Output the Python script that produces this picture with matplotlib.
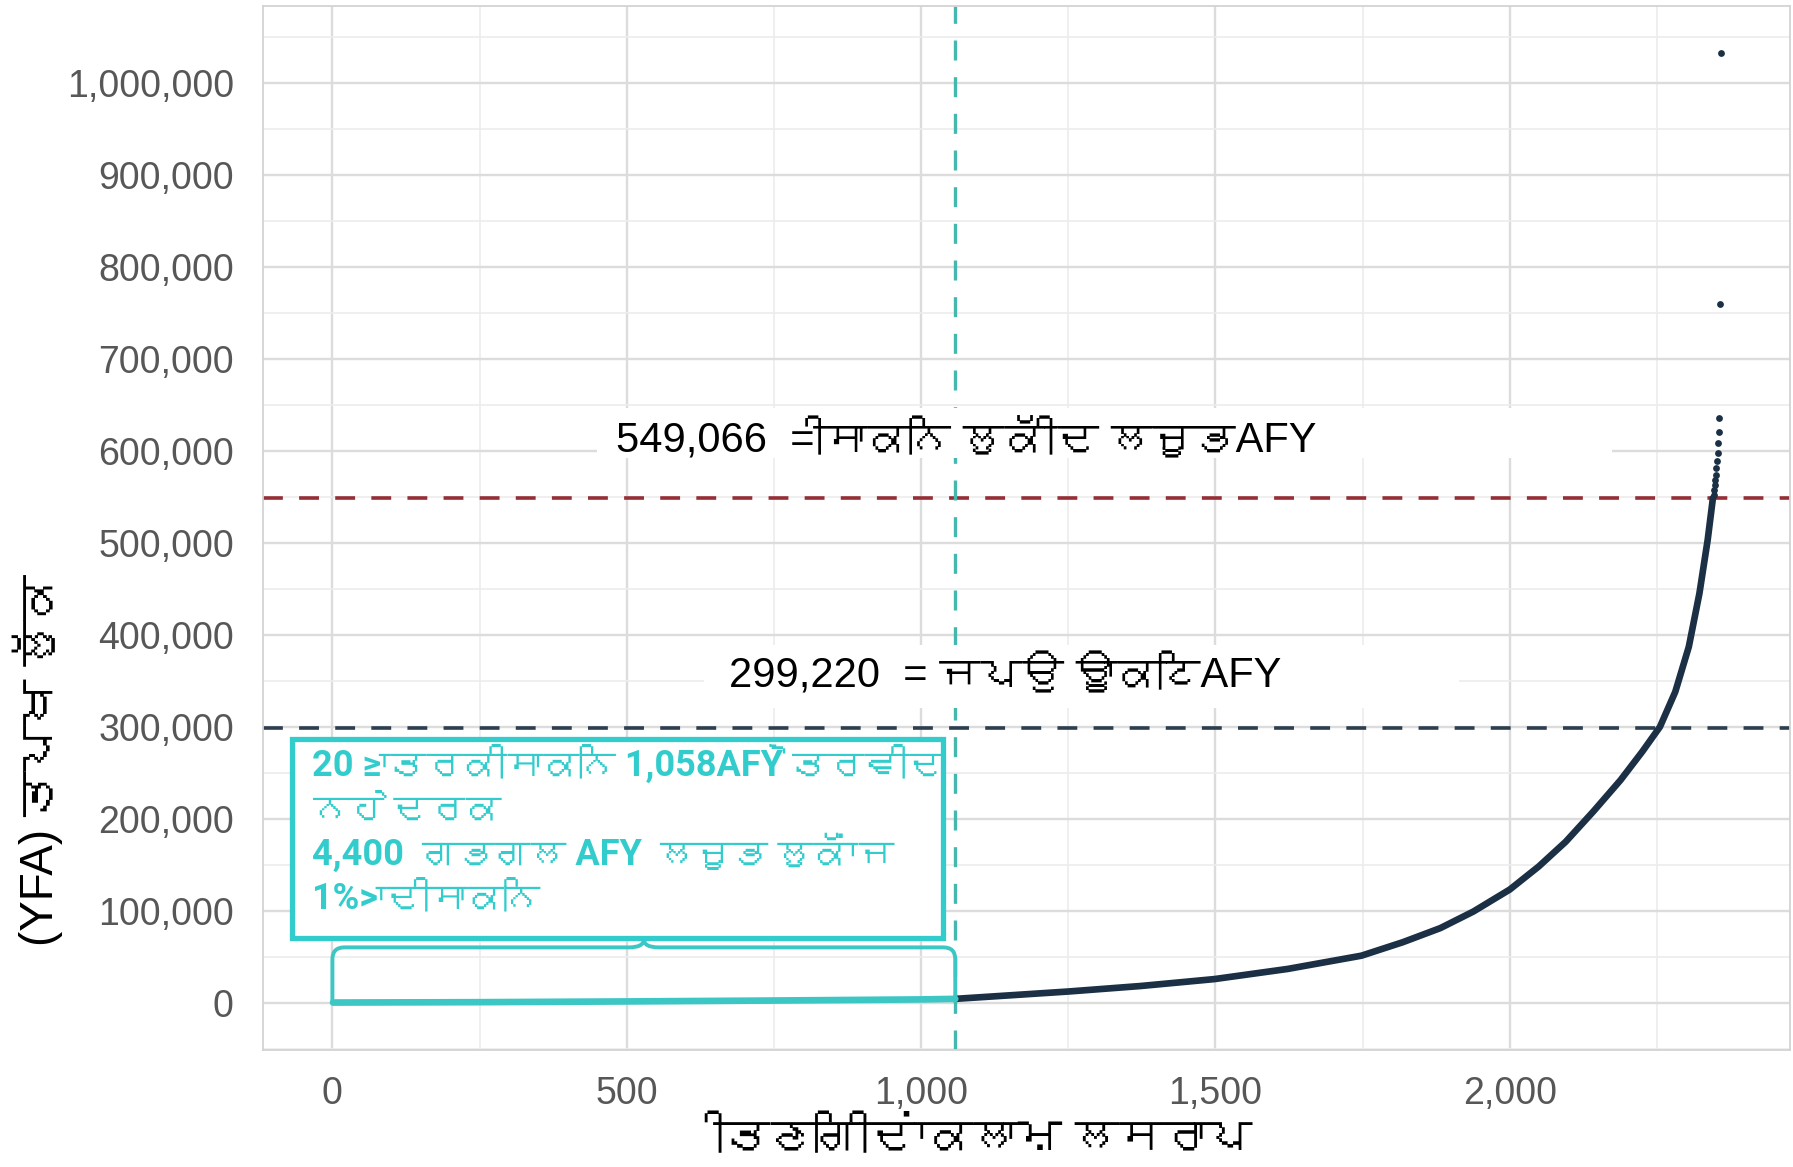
import matplotlib
matplotlib.use("Agg")
import matplotlib.pyplot as plt
from matplotlib import font_manager
from matplotlib.path import Path
from matplotlib.patches import PathPatch, Rectangle
from matplotlib.ticker import FuncFormatter, MultipleLocator

# ---------------- data ----------------
low_rank = [1, 250, 500, 750, 1000, 1058]
low_value = [0, 400, 1200, 2200, 3400, 4000]

curve_rank = [1058, 1123, 1250, 1373, 1498, 1623, 1748, 1818, 1882, 1938, 2000,
              2049, 2095, 2142, 2188, 2225, 2255, 2281, 2304, 2322, 2336, 2345]
curve_value = [4000, 6700, 12000, 18000, 25500, 36600, 51000, 65600, 81000, 99000, 123000,
               148000, 175000, 208000, 242000, 273000, 300000, 338000, 387000, 445000, 503000, 549000]

top_rank = [2346, 2347, 2348, 2349, 2350, 2351, 2352, 2353, 2354, 2355, 2356]
top_value = [552700, 558100, 563500, 568900, 574300, 581600, 588700, 597800, 608700, 621200, 635700]

outlier_rank = [2357, 2358]
outlier_value = [759500, 1032600]

extraction_total = 549066
sustainable_yield = 299220
small_owner_cutoff = 1058
brace_height = 60000
brace_tip = 9000

x_label = "ੀਤਣਗਿ ੀਦ ਂਾਕਲਾਮ ਲਸਰਾਪ"
y_label = "(YFA) ਤਪਖ ਲੱੁਕ"
red_label = "549,066  = ੀਸਾਕਨਿ ਲੁਕੱ ੀਦ ਲਜੂਭAFY"
blue_label = "299,220  = ਜਪਉ ਊਾਕਟਿAFY"
box_lines = ["20 ≥ ਾਤਰਕ ੀਸਾਕਨਿ 1,058AFY ਂੋਤਰਵ ੀਦ",
             "ਨਹ ੇਦਰਕ",
             "4,400  ਗਭਗਲ AFY  ਲਜੂਭ ਲੁਕੱ ਂਾਜ",
             "1%> ਾਦ ੀਸਾਕਨਿ"]

# ---------------- fonts ----------------
def find_font(ch):
    try:
        from fontTools.ttLib import TTFont
    except Exception:
        return None
    for f in font_manager.fontManager.ttflist:
        try:
            t = TTFont(f.fname, fontNumber=0, lazy=True)
            cmap = t.getBestCmap()
            if cmap and ord(ch) in cmap:
                return f.name
        except Exception:
            pass
    return None

gur = find_font("ਤ")
fam_reg = ["Liberation Sans"] + ([gur] if gur else []) + ["DejaVu Sans"]
fam_bold = ["Roboto"] + ([gur] if gur else []) + ["DejaVu Sans"]

# ---------------- figure ----------------
W, H = 1793, 1167
fig = plt.figure(figsize=(W / 100, H / 100), dpi=100)
fig.patch.set_facecolor("white")
ax = fig.add_axes([263 / W, 1 - 1050 / H, (1790 - 263) / W, (1050 - 6) / H])

all_rank = low_rank + curve_rank + top_rank + outlier_rank
all_val = low_value + curve_value + top_value + outlier_value
xr = max(all_rank) - 0
yr = max(all_val) - 0
ax.set_xlim(0 - 0.05 * xr, max(all_rank) + 0.05 * xr)
ax.set_ylim(0 - 0.05 * yr, max(all_val) + 0.05 * yr)

ax.xaxis.set_major_locator(MultipleLocator(500))
ax.xaxis.set_minor_locator(MultipleLocator(250))
ax.yaxis.set_major_locator(MultipleLocator(100000))
ax.yaxis.set_minor_locator(MultipleLocator(50000))
ax.xaxis.set_major_formatter(FuncFormatter(lambda v, p: f"{int(round(v)):,}"))
ax.yaxis.set_major_formatter(FuncFormatter(lambda v, p: f"{int(round(v)):,}"))

ax.set_axisbelow(True)
ax.grid(which="major", color="#dcdcdc", lw=1.7)
ax.grid(which="minor", color="#ececec", lw=1.2)
for s in ax.spines.values():
    s.set_color("#d3d3d3")
    s.set_linewidth(1.3)
ax.tick_params(which="both", length=0)
ax.tick_params(axis="y", pad=21, labelsize=27, labelcolor="#575757")
ax.tick_params(axis="x", pad=19, labelsize=27, labelcolor="#575757")
for lab in ax.get_xticklabels() + ax.get_yticklabels():
    lab.set_family(fam_reg)

# reference lines
ax.axhline(extraction_total, color="#952f35", lw=2.6, ls=(0, (5.5, 4.5)), zorder=2)
ax.axhline(sustainable_yield, color="#2d3e4e", lw=2.6, ls=(0, (5.5, 4.5)), zorder=2)
ax.axvline(small_owner_cutoff, color="#45b8ae", lw=2.4, ls=(0, (6, 5)), zorder=2)

# data curve
ax.plot(curve_rank, curve_value, color="#1b2f45", lw=4.8, solid_capstyle="round",
        solid_joinstyle="round", zorder=3)
ax.scatter(top_rank, top_value, s=24, color="#1b2f45", zorder=3, linewidths=0)
ax.scatter(outlier_rank, outlier_value, s=24, color="#1b2f45", zorder=3, linewidths=0)
ax.plot(low_rank, low_value, color="#3cc6c4", lw=4.8, solid_capstyle="round", zorder=3)

# curly brace over the small owners
x0, x1 = 0, small_owner_cutoff
xm = (x0 + x1) / 2
rx, ry, tw = 20, 13000, 25
verts = [(x0, 0), (x0, brace_height - ry), (x0, brace_height), (x0 + rx, brace_height),
         (xm - tw, brace_height), (xm, brace_height), (xm, brace_height + brace_tip),
         (xm, brace_height), (xm + tw, brace_height),
         (x1 - rx, brace_height), (x1, brace_height), (x1, brace_height - ry), (x1, 0)]
codes = [Path.MOVETO, Path.LINETO, Path.CURVE3, Path.CURVE3,
         Path.LINETO, Path.CURVE3, Path.CURVE3,
         Path.CURVE3, Path.CURVE3,
         Path.LINETO, Path.CURVE3, Path.CURVE3, Path.LINETO]
ax.add_patch(PathPatch(Path(verts, codes), fill=False, edgecolor="#3cc6c4", lw=2.8, zorder=3))

# white label panels
ax.add_patch(Rectangle((449, 593000), 2174 - 449, 647000 - 593000, facecolor="white",
                       edgecolor="none", zorder=4))
ax.add_patch(Rectangle((632, 321000), 1913 - 632, 389000 - 321000, facecolor="white",
                       edgecolor="none", zorder=4))
ax.text(481, 612000, red_label, fontsize=30, color="black", va="center", ha="left",
        family=fam_reg, zorder=5)
ax.text(673, 355500, blue_label, fontsize=30, color="black", va="center", ha="left",
        family=fam_reg, zorder=5)

# teal info box
ax.add_patch(Rectangle((-69, 70000), 1037 + 69, 287000 - 70000, facecolor="white",
                       edgecolor="#33cccc", lw=3.8, zorder=4))
for i, line in enumerate(box_lines):
    ax.text(-35, 259000 - i * 48500, line, fontsize=26, fontweight="bold", color="#33cccc",
            va="center", ha="left", family=fam_bold, zorder=5)

# axis titles
fig.text(990 / W, 1 - 1138 / H, x_label, fontsize=32, ha="center", va="center",
         family=fam_reg, color="black")
fig.text(38 / W, 1 - 760 / H, y_label, fontsize=33, ha="center", va="center",
         rotation=90, family=fam_reg, color="black")

fig.savefig("out.png", dpi=100)
